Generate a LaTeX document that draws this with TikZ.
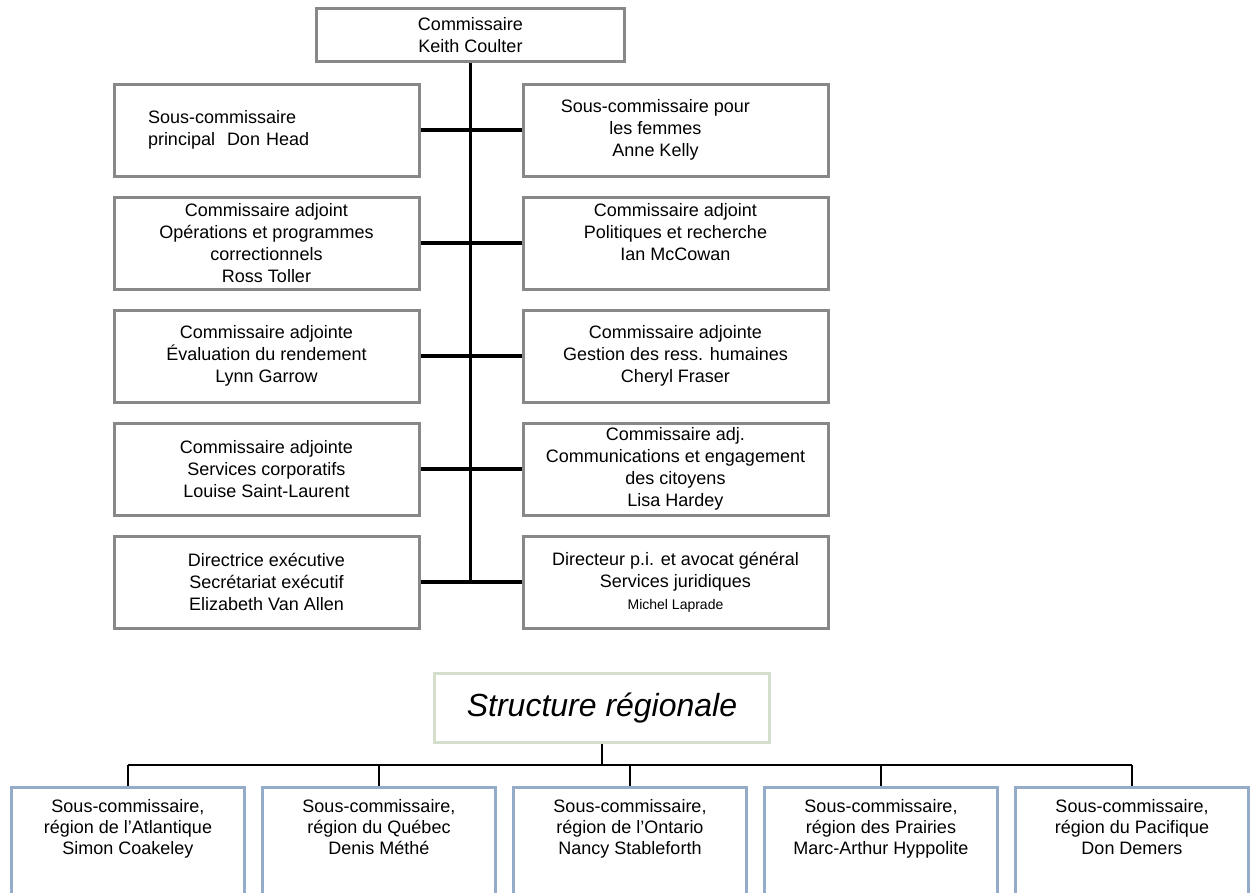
\documentclass[tikz,border=0pt]{standalone}
\usepackage{fontspec}
\setmainfont{Liberation Sans}
\usepackage{tikz}
\usetikzlibrary{positioning}
\definecolor{boxgray}{HTML}{888888}
\definecolor{regblue}{HTML}{95ACC9}
\definecolor{titlegreen}{HTML}{D3DFCC}

\begin{document}
\begin{tikzpicture}[x=1pt, y=-1pt,
  orgbox/.style={draw=boxgray, line width=3pt, minimum width=305pt, minimum height=92pt,
    inner sep=0pt, align=center, font=\fontsize{18}{22}\selectfont},
  regbox/.style={draw=regblue, line width=3.3pt, minimum width=233pt, minimum height=140pt,
    inner sep=0pt, anchor=north},
  regtext/.style={anchor=north, inner sep=0pt, align=center, font=\fontsize{18}{21}\selectfont},
  trunk/.style={line width=3.5pt},
  branch/.style={line width=1.6pt}]
\useasboundingbox (0,0) rectangle (1256,892);
\clip (0,0) rectangle (1256,892);

% national headquarters
\node[orgbox, minimum width=308pt, minimum height=53pt] (comm) at (470.5,35) {Commissaire\\Keith Coulter};

\node[orgbox, text width=237pt, align=left] (l1) at (266.5,130) {Sous-commissaire\\principal\ \ Don Head};
\node[orgbox] (r1) at (675.5,130) {\begin{tabular}{@{}c@{}}Sous-commissaire pour\\les femmes\\Anne Kelly\end{tabular}\hspace*{40pt}};

\node[orgbox] (l2) at (266.5,243) {Commissaire adjoint\\Opérations et programmes\\correctionnels\\Ross Toller};
\node[orgbox] (r2) at (675.5,243) {Commissaire adjoint\\Politiques et recherche\\Ian McCowan\\\mbox{}};

\node[orgbox] (l3) at (266.5,356) {Commissaire adjointe\\Évaluation du rendement\\Lynn Garrow};
\node[orgbox] (r3) at (675.5,356) {Commissaire adjointe\\Gestion des ress. humaines\\Cheryl Fraser};

\node[orgbox] (l4) at (266.5,469) {Commissaire adjointe\\Services corporatifs\\Louise Saint-Laurent};
\node[orgbox] (r4) at (675.5,469) {Commissaire adj.\\Communications et engagement\\des citoyens\\Lisa Hardey};

\node[orgbox] (l5) at (266.5,582) {Directrice exécutive\\Secrétariat exécutif\\Elizabeth Van Allen};
\node[orgbox] (r5) at (675.5,582) {Directeur p.i. et avocat général\\Services juridiques\\{\fontsize{14}{16}\selectfont Michel Laprade}};

\draw[trunk] (comm.south) -- (comm.south |- l5.east);
\foreach \i in {1,...,5}
  \draw[trunk] (l\i.east) -- (r\i.west);

% regions
\node[draw=titlegreen, line width=3pt, minimum width=335pt, minimum height=69pt, inner sep=0pt,
  font=\fontsize{32}{38}\selectfont\itshape] (regtitle) at (602,708) {Structure régionale};
\coordinate (bar) at (602,765);

\foreach \i/\txt in {1/{Sous-commissaire,\\région de l’Atlantique\\Simon Coakeley},
                     2/{Sous-commissaire,\\région du Québec\\Denis Méthé},
                     3/{Sous-commissaire,\\région de l’Ontario\\Nancy Stableforth},
                     4/{Sous-commissaire,\\région des Prairies\\Marc-Arthur Hyppolite},
                     5/{Sous-commissaire,\\région du Pacifique\\Don Demers}} {
  \node[regbox] (reg\i) at (128+251*\i-251,786) {};
  \node[regtext] (regt\i) at ([yshift=-13pt]reg\i.north) {\txt};
  \draw[branch] (reg\i.north |- bar) -- (reg\i.north);
}
\draw[branch] (regtitle.south) -- (bar);
\draw[branch] (reg1.north |- bar) -- (reg5.north |- bar);
\end{tikzpicture}
\end{document}
